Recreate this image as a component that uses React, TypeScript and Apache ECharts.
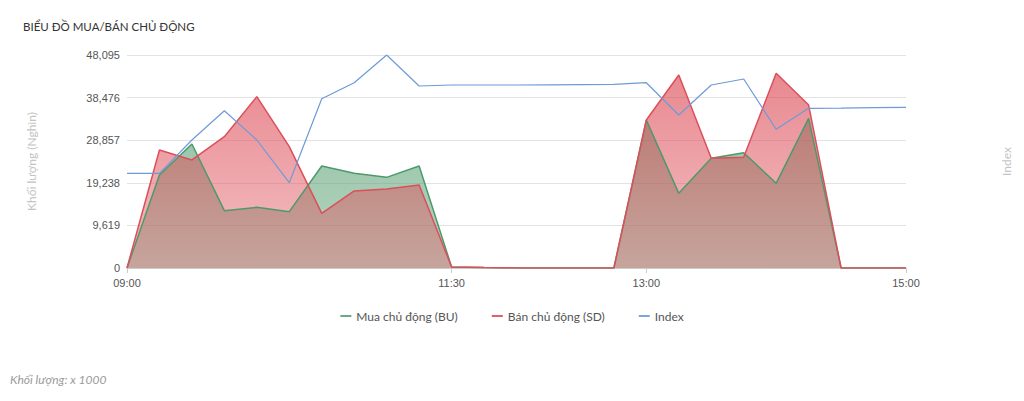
import React, { useEffect, useRef } from "react";
import * as echarts from "echarts";

const times = [
  "09:00", "09:15", "09:30", "09:45", "10:00", "10:15", "10:30", "10:45", "11:00", "11:15",
  "11:30", "11:45", "12:00", "12:15", "12:30", "12:45", "13:00", "13:15", "13:30", "13:45",
  "14:00", "14:15", "14:30", "14:45", "15:00",
];
const shownLabels = ["09:00", "11:30", "13:00", "15:00"];

const buyBU = [
  0, 21000, 28000, 12940, 13700, 12720, 23030, 21380, 20470, 23030,
  250, 120, 0, 0, 0, 0, 33400, 16860, 24760, 26040,
  19120, 33800, 0, 0, 0,
];
const sellSD = [
  0, 26640, 24390, 29650, 38690, 27400, 12340, 17390, 17840, 18740,
  250, 120, 0, 0, 0, 0, 33420, 43580, 24760, 25000,
  43960, 36800, 0, 0, 0,
];
const indexVals = [
  21380, 21380, 28900, 35520, 28900, 19260, 38230, 41840, 48095, 41100,
  41320, 41320, 41320, 41350, 41400, 41480, 41840, 34550, 41320, 42680,
  31320, 36060, 36100, 36200, 36290,
];

const yMax = 48095;
const yInterval = 9619;

const seriesNames = ["Mua chủ động (BU)", "Bán chủ động (SD)", "Index"];
const titleText = "BIỂU ĐỒ MUA/BÁN CHỦ ĐỘNG";
const leftAxisName = "Khối lượng (Nghìn)";
const rightAxisName = "Index";
const noteText = "Khối lượng: x 1000";

export default function App() {
  const ref = useRef<HTMLDivElement>(null);
  useEffect(() => {
    if (!ref.current) return;
    const chart = echarts.init(ref.current, null, { renderer: "svg" });
    const labelFont = "'Liberation Sans', Arial, sans-serif";
    const uiFont = "Lato, 'Noto Sans', sans-serif";
    const showAt = (i: number) => shownLabels.includes(times[i]);
    chart.setOption({
      animation: false,
      backgroundColor: "#ffffff",
      title: {
        text: titleText,
        left: 18,
        top: 15,
        textStyle: { fontFamily: uiFont, fontSize: 11.5, fontWeight: "normal", color: "#333" },
      },
      legend: {
        data: seriesNames,
        bottom: 74,
        left: "center",
        icon: "rect",
        itemWidth: 11,
        itemHeight: 2,
        itemGap: 34,
        textStyle: { fontFamily: uiFont, fontSize: 12, color: "#555" },
      },
      grid: { left: 127, right: 118, top: 55, bottom: 133, containLabel: false },
      xAxis: {
        type: "category",
        data: times,
        boundaryGap: false,
        axisLine: { lineStyle: { color: "#ccc" } },
        axisTick: { interval: (i: number) => showAt(i), lineStyle: { color: "#ccc" }, length: 5 },
        axisLabel: {
          interval: (i: number) => showAt(i),
          fontFamily: labelFont,
          fontSize: 11,
          color: "#555",
          margin: 9,
        },
        splitLine: { show: false },
      },
      yAxis: [
        {
          type: "value",
          min: 0,
          max: yMax,
          interval: yInterval,
          name: leftAxisName,
          nameLocation: "middle",
          nameGap: 90,
          nameTextStyle: { fontFamily: uiFont, fontSize: 12, color: "#c4c4c4" },
          axisLine: { show: false },
          axisTick: { show: false },
          axisLabel: {
            fontFamily: labelFont,
            fontSize: 11,
            color: "#555",
            margin: 7,
            formatter: (v: number) => v.toLocaleString("en-US"),
          },
          splitLine: { lineStyle: { color: "#e3e3e3" } },
        },
        {
          type: "value",
          min: 0,
          max: yMax,
          interval: yInterval,
          position: "right",
          name: rightAxisName,
          nameLocation: "middle",
          nameGap: 94,
          nameTextStyle: { fontFamily: uiFont, fontSize: 12, color: "#c4c4c4" },
          axisLine: { show: false },
          axisTick: { show: false },
          axisLabel: { show: false },
          splitLine: { show: false },
        },
      ],
      series: [
        {
          name: seriesNames[0],
          type: "line",
          data: buyBU,
          symbol: "none",
          color: "#6aaa8a",
          lineStyle: { color: "#4c9a6c", width: 1.5 },
          areaStyle: {
            color: new echarts.graphic.LinearGradient(0, 0, 0, 1, [
              { offset: 0, color: "rgba(70,150,100,0.8)" },
              { offset: 1, color: "rgba(90,160,115,0.65)" },
            ]),
          },
        },
        {
          name: seriesNames[1],
          type: "line",
          data: sellSD,
          symbol: "none",
          color: "#e0606c",
          lineStyle: { color: "#dc4f5a", width: 1.5 },
          areaStyle: {
            color: new echarts.graphic.LinearGradient(0, 0, 0, 1, [
              { offset: 0, color: "rgba(218,62,74,0.88)" },
              { offset: 1, color: "rgba(225,95,105,0.58)" },
            ]),
          },
        },
        {
          name: seriesNames[2],
          type: "line",
          yAxisIndex: 1,
          data: indexVals,
          symbol: "none",
          color: "#7aa8dc",
          lineStyle: { color: "#6d9bd6", width: 1.2 },
        },
      ],
      graphic: [
        {
          type: "text",
          left: 10,
          top: 373,
          style: {
            text: noteText,
            fontFamily: uiFont,
            fontStyle: "italic",
            fontSize: 12,
            fill: "#9a9a9a",
          },
        },
      ],
    });
    return () => chart.dispose();
  }, []);
  return (
    <div
      ref={ref}
      style={{ position: "fixed", left: 0, top: 0, width: 1024, height: 401 }}
    />
  );
}
